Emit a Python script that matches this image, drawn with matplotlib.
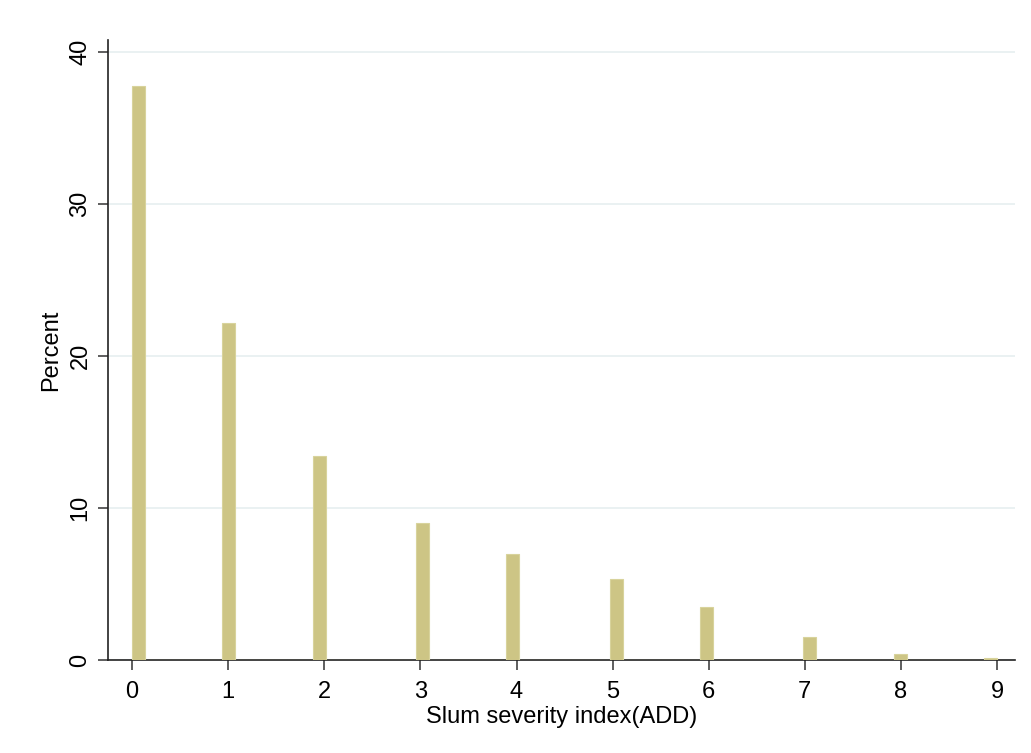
import matplotlib
matplotlib.use("Agg")
import matplotlib.pyplot as plt

plt.rcParams['font.family'] = ['Liberation Sans', 'DejaVu Sans']

index_values = [0, 1, 2, 3, 4, 5, 6, 7, 8, 9]
percents = [37.8, 22.15, 13.4, 9.0, 7.0, 5.3, 3.5, 1.5, 0.4, 0.12]
n_bins = 67  # Stata-style histogram bins over 0..9

fig = plt.figure(figsize=(10.31, 7.53), dpi=100)
ax = fig.add_axes([0.1048, 0.1235, 0.88, 0.8234])

ax.hist(index_values, bins=n_bins, range=(0, 9), weights=percents,
        color="#cdc585", edgecolor="#d8d39c", linewidth=0.8, zorder=3)

ax.set_xlim(-0.25, 9.19)
ax.set_ylim(0, 40.8)
ax.set_xticks(index_values)
ax.set_yticks([0, 10, 20, 30, 40])
ax.grid(axis="y", color="#e6eff0", linewidth=1.2, zorder=0)

for s in ["top", "right"]:
    ax.spines[s].set_visible(False)
for s in ["left", "bottom"]:
    ax.spines[s].set_color("#222222")
    ax.spines[s].set_linewidth(1.2)

ax.tick_params(axis="both", direction="out", length=7, width=1.1,
               color="#333333", labelsize=17)
ax.tick_params(axis="x", pad=8)
ax.tick_params(axis="y", pad=5)
for lab in ax.get_yticklabels():
    lab.set_rotation(90)
    lab.set_va("center")

ax.set_ylabel("Percent", fontsize=17, labelpad=5)
ax.set_xlabel("Slum severity index(ADD)", fontsize=17, labelpad=2)

fig.savefig("out.png", dpi=100, facecolor="white")
